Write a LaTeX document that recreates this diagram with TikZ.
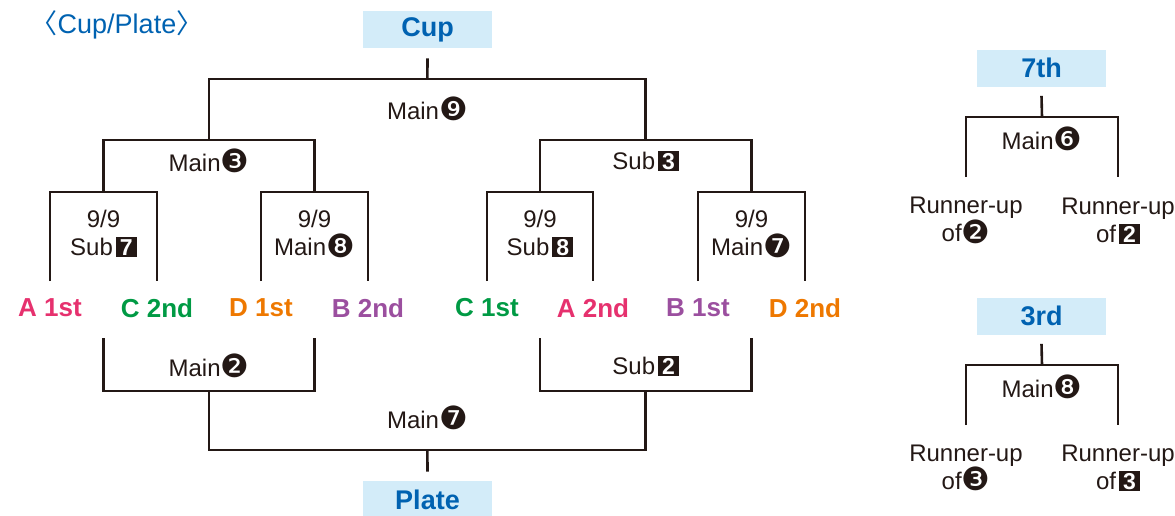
\documentclass[tikz,border=0pt]{standalone}
\usepackage{fontspec}
\setmainfont{Liberation Sans}
\newfontfamily\dingfont{DejaVu Sans}
\newfontfamily\cjkfont{Noto Sans CJK JP}
\usetikzlibrary{calc}
\definecolor{ink}{HTML}{231815}
\definecolor{titleblue}{HTML}{0062B1}
\definecolor{boxblue}{HTML}{D3ECF9}
\definecolor{teamA}{HTML}{E6316E}
\definecolor{teamB}{HTML}{9B4F9F}
\definecolor{teamC}{HTML}{009A44}
\definecolor{teamD}{HTML}{EE7800}
\newcommand{\circnum}[1]{\raisebox{-1.5pt}{\dingfont\fontsize{32}{32}\selectfont #1}}
\newcommand{\sqnum}[1]{\hspace{3pt}{\setlength{\fboxsep}{0pt}\colorbox{ink}{\makebox[21pt]{\rule[-1.5pt]{0pt}{20pt}\textcolor{white}{\fontsize{23}{23}\selectfont\bfseries #1}}}}}

\begin{document}
\begin{tikzpicture}[x=1pt, y=-1pt, line width=2.6pt, color=ink,
  every node/.style={inner sep=0pt, text=ink},
  match/.style={align=center, font=\fontsize{24}{28}\selectfont},
  team/.style={font=\fontsize{26}{30}\selectfont\bfseries},
  final/.style={fill=boxblue, text=titleblue, minimum width=129pt, minimum height=37pt, font=\fontsize{27}{30}\selectfont\bfseries}]
\useasboundingbox (0,0) rectangle (1175,515);

\node[text=titleblue, font=\fontsize{27}{28}\selectfont] (title) at (117,25) {{\cjkfont 〈}Cup/Plate{\cjkfont 〉}};
\node[final] (cup) at (427.5,29.5) {Cup};
\node[final] (plate) at (427.5,499.5) {Plate};

\node[team, text=teamA] (a1) at (50,308) {A 1st};
\node[team, text=teamC] (c2) at (157,308) {C 2nd};
\node[team, text=teamD] (d1) at (261,308) {D 1st};
\node[team, text=teamB] (b2) at (368,308) {B 2nd};
\node[team, text=teamC] (c1) at (487,308) {C 1st};
\node[team, text=teamA] (a2) at (593,308) {A 2nd};
\node[team, text=teamB] (b1) at (698,308) {B 1st};
\node[team, text=teamD] (d2) at (805,308) {D 2nd};

\coordinate (lvA) at (0,281);
\coordinate (lvB) at (0,192);
\coordinate (lvC) at (0,140);
\coordinate (lvD) at (0,79);
\coordinate (lvE) at (0,338);
\coordinate (lvF) at (0,391);
\coordinate (lvG) at (0,450);

\draw (a1 |- lvA) |- (c2 |- lvB) -- (c2 |- lvA);
\draw (d1 |- lvA) |- (b2 |- lvB) -- (b2 |- lvA);
\draw (c1 |- lvA) |- (a2 |- lvB) -- (a2 |- lvA);
\draw (b1 |- lvA) |- (d2 |- lvB) -- (d2 |- lvA);
\coordinate (s7) at ($(a1 |- lvB)!.5!(c2 |- lvB)$);
\coordinate (m8) at ($(d1 |- lvB)!.5!(b2 |- lvB)$);
\coordinate (s8) at ($(c1 |- lvB)!.5!(a2 |- lvB)$);
\coordinate (m7) at ($(b1 |- lvB)!.5!(d2 |- lvB)$);

\draw (s7) |- (m8 |- lvC) -- (m8);
\draw (s8) |- (m7 |- lvC) -- (m7);
\coordinate (m3) at ($(s7 |- lvC)!.5!(m8 |- lvC)$);
\coordinate (sb3) at ($(s8 |- lvC)!.5!(m7 |- lvC)$);
\draw (m3) |- (sb3 |- lvD) -- (sb3);
\coordinate (top) at ($(m3 |- lvD)!.5!(sb3 |- lvD)$);
\draw (top) -- ([yshift=-9pt]cup.south);

\draw (s7 |- lvE) |- (m8 |- lvF) -- (m8 |- lvE);
\draw (s8 |- lvE) |- (m7 |- lvF) -- (m7 |- lvE);
\coordinate (m2) at ($(s7 |- lvF)!.5!(m8 |- lvF)$);
\coordinate (sb2) at ($(s8 |- lvF)!.5!(m7 |- lvF)$);
\draw (m2) |- (sb2 |- lvG) -- (sb2);
\coordinate (bot) at ($(m2 |- lvG)!.5!(sb2 |- lvG)$);
\draw (bot) -- ([yshift=8pt]plate.north);

\node[match] (lsub7) at ($(s7)+(0,42)$) {9/9\\Sub\sqnum{7}};
\node[match] (lmain8) at ($(m8)+(0,42)$) {9/9\\Main\circnum{❽}};
\node[match] (lsub8) at ($(s8)+(0,42)$) {9/9\\Sub\sqnum{8}};
\node[match] (lmain7) at ($(m7)+(0,42)$) {9/9\\Main\circnum{❼}};
\node[match] (lmain3) at ($(m3)+(0,21)$) {Main\circnum{❸}};
\node[match] (lsub3) at ($(sb3)+(0,21)$) {Sub\sqnum{3}};
\node[match] (lmain9) at ($(top)+(0,30)$) {Main\circnum{❾}};
\node[match] (lmain2) at ($(m2)+(0,-25)$) {Main\circnum{❷}};
\node[match] (lsub2) at ($(sb2)+(0,-25)$) {Sub\sqnum{2}};
\node[match] (lmain7b) at ($(bot)+(0,-32)$) {Main\circnum{❼}};

\node[final] (seventh) at (1041.5,68) {7th};
\coordinate (q7t) at (1042,117);
\coordinate (q7l) at (966,177);
\coordinate (q7r) at (1118,177);
\draw (q7l) |- (q7t) -| (q7r);
\draw (q7t) -- ([yshift=-8pt]seventh.south);
\node[match] (lmain6) at (1042,139) {Main\circnum{❻}};
\node[match] (ru2) at (966,220.5) {Runner-up\\of\circnum{❷}};
\node[match] (ru2s) at (1118,220.5) {Runner-up\\of\sqnum{2}};

\node[final] (third) at (1041.5,316) {3rd};
\coordinate (q3t) at (1042,365);
\coordinate (q3l) at (966,425);
\coordinate (q3r) at (1118,425);
\draw (q3l) |- (q3t) -| (q3r);
\draw (q3t) -- ([yshift=-8pt]third.south);
\node[match] (lmain8b) at (1042,387) {Main\circnum{❽}};
\node[match] (ru3) at (966,468) {Runner-up\\of\circnum{❸}};
\node[match] (ru3s) at (1118,468) {Runner-up\\of\sqnum{3}};
\end{tikzpicture}
\end{document}
